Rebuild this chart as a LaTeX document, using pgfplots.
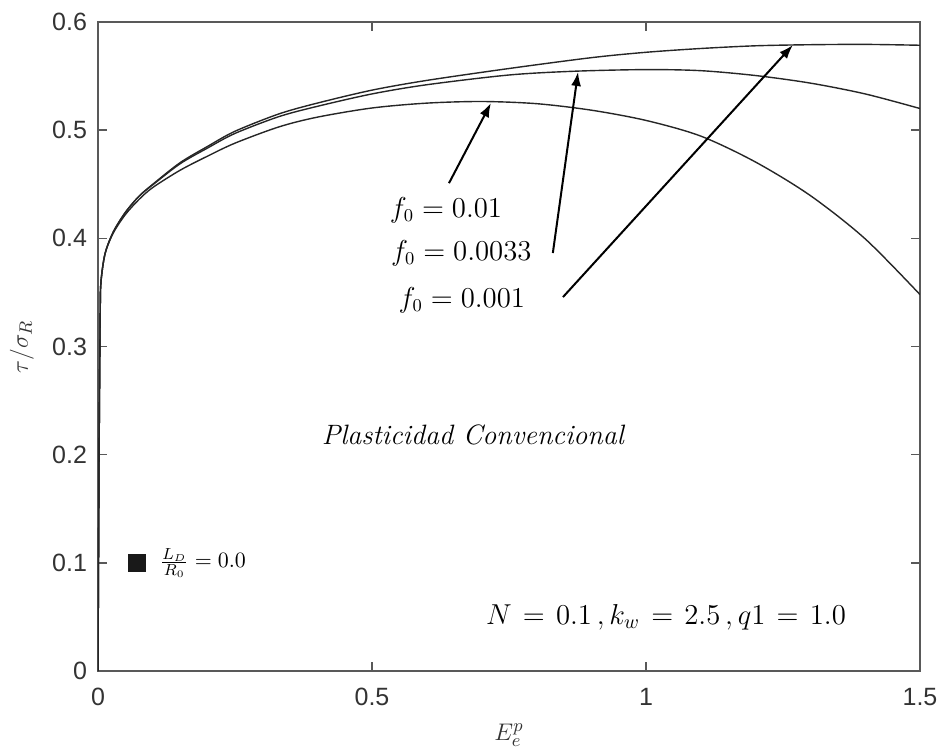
\documentclass[border=0pt]{standalone}
\usepackage{fontspec}
\setsansfont{Liberation Sans}
\usepackage{pgfplots}
\pgfplotsset{compat=1.18}
\usetikzlibrary{arrows.meta}
\begin{document}
\begin{tikzpicture}
\begin{axis}[
  scale only axis,
  width=411pt, height=324.5pt,
  xmin=0, xmax=1.5, ymin=0, ymax=0.6,
  xtick={0,0.5,1,1.5}, ytick={0,0.1,0.2,0.3,0.4,0.5,0.6},
  xticklabels={0,0.5,1,1.5},
  yticklabels={0,0.1,0.2,0.3,0.4,0.5,0.6},
  tick align=inside, major tick length=4.5pt,
  axis line style={black!65, line width=0.8pt},
  tick style={black!65, line width=0.8pt},
  ticklabel style={font=\sffamily\fontsize{12.5}{14}\selectfont, text=black!80},
  xticklabel style={yshift=-5pt},
  yticklabel style={xshift=-2pt},
  every axis y label/.style={at={(axis description cs:-0.0925,0.5)}, rotate=90, anchor=center},
  every axis x label/.style={at={(axis description cs:0.5,-0.0986)}, anchor=center},
  ylabel={\color{black!80}\fontsize{13}{15}\selectfont$\tau/\sigma_R$},
  xlabel={\color{black!80}\fontsize{13}{15}\selectfont$E^{p}_{e}$},
  clip=true,
]
% f0 = 0.001
\addplot[black!85, line width=0.7pt, smooth, tension=0.5] coordinates {
(0,0)(0.002,0.2)(0.004,0.33)(0.0055,0.36)(0.013,0.386)(0.028,0.406)(0.05,0.424)(0.075,0.439)(0.1,0.450)
(0.15,0.470)(0.2,0.485)(0.25,0.499)(0.33,0.515)(0.4,0.525)(0.5,0.537)(0.6,0.546)(0.75,0.557)(0.9,0.567)(1.0,0.572)
(1.1,0.5755)(1.2,0.578)(1.3,0.579)(1.4,0.5793)(1.5,0.5785)};
% f0 = 0.0033
\addplot[black!85, line width=0.7pt, smooth, tension=0.5] coordinates {
(0,0)(0.002,0.2)(0.004,0.33)(0.0055,0.36)(0.013,0.386)(0.028,0.406)(0.05,0.424)(0.075,0.439)(0.1,0.4495)
(0.15,0.469)(0.2,0.4835)(0.25,0.497)(0.33,0.5125)(0.4,0.522)(0.5,0.5335)(0.6,0.542)(0.75,0.551)(0.87,0.5545)(1.0,0.556)
(1.1,0.555)(1.2,0.5505)(1.3,0.5435)(1.4,0.5335)(1.5,0.520)};
% f0 = 0.01
\addplot[black!85, line width=0.7pt, smooth, tension=0.5] coordinates {
(0,0)(0.002,0.2)(0.004,0.33)(0.0055,0.36)(0.013,0.386)(0.028,0.405)(0.05,0.422)(0.075,0.436)(0.1,0.447)
(0.15,0.463)(0.2,0.476)(0.25,0.488)(0.33,0.503)(0.4,0.512)(0.5,0.5205)(0.6,0.525)(0.7,0.5265)(0.8,0.5245)(0.9,0.5185)(1.0,0.509)
(1.1,0.4945)(1.2,0.4705)(1.3,0.4395)(1.4,0.3995)(1.5,0.348)};
% legend marker
\addplot[only marks, mark=square*, mark size=4.25pt, black!90] coordinates {(0.071,0.1)};
\node[anchor=west, font=\fontsize{11}{13}\selectfont] at (axis cs:0.1,0.1) {$\frac{L_D}{R_0}=0.0$};
% arrows
\draw[black, line width=1pt, -{Latex[length=7pt,width=5pt]}] (axis cs:0.6405,0.451) -- (axis cs:0.717,0.525);
\draw[black, line width=1pt, -{Latex[length=7pt,width=5pt]}] (axis cs:0.830,0.3864) -- (axis cs:0.876,0.5538);
\draw[black, line width=1pt, -{Latex[length=7pt,width=5pt]}] (axis cs:0.8485,0.3457) -- (axis cs:1.268,0.5787);
% labels
\node[font=\fontsize{13.5}{15}\selectfont] at (axis cs:0.635,0.426) {$f_0 = 0.01$};
\node[font=\fontsize{13.5}{15}\selectfont] at (axis cs:0.663,0.386) {$f_0 = 0.0033$};
\node[font=\fontsize{13.5}{15}\selectfont] at (axis cs:0.664,0.343) {$f_0 = 0.001$};
\node[font=\fontsize{14}{16}\selectfont\itshape] at (axis cs:0.684,0.218) {Plasticidad Convencional};
\node[font=\fontsize{14.5}{16}\selectfont] at (axis cs:1.0365,0.050) {$N\mskip2mu=\mskip2mu0.1\,,k_w\mskip2mu=\mskip2mu2.5\,,q1\mskip2mu=\mskip2mu1.0$};
\end{axis}
\pgfresetboundingbox
\path[use as bounding box] ([shift={(-49pt,-40pt)}]current axis.south west) rectangle ([shift={(12pt,11pt)}]current axis.north east);
\end{tikzpicture}
\end{document}
